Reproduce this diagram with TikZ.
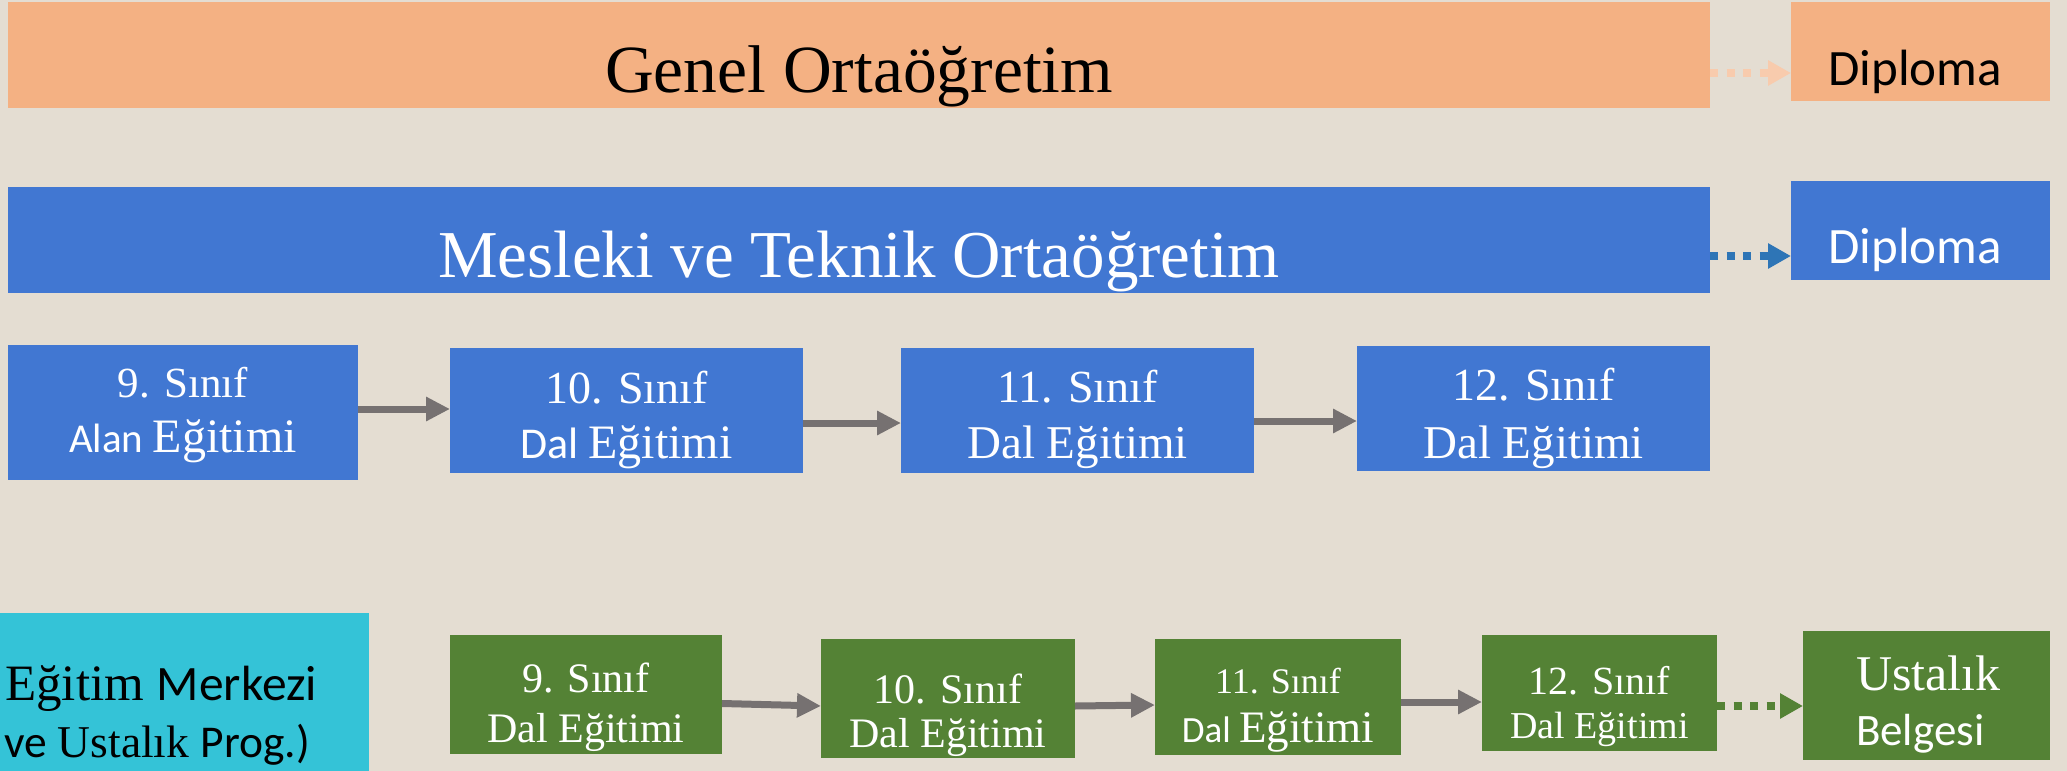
\documentclass[tikz,border=0pt]{standalone}
\usepackage{fontspec}
\setmainfont{Liberation Serif}
\setsansfont{Carlito}
\usetikzlibrary{arrows.meta}
\definecolor{bg}{HTML}{E4DDD2}
\definecolor{orng}{HTML}{F4B183}
\definecolor{blu}{HTML}{4177D2}
\definecolor{grn}{HTML}{548235}
\definecolor{cyn}{HTML}{34C3D7}
\definecolor{arrgray}{HTML}{767171}
\definecolor{peach}{HTML}{F8CBAD}
\definecolor{dblue}{HTML}{2E75B6}
\newcommand\fsz[1]{\fontsize{#1}{#1}\selectfont}
\begin{document}
\begin{tikzpicture}[x=1pt,y=-1pt,
  box/.style={draw=none, rectangle, inner sep=0pt, outer sep=0pt},
  bluebox/.style={box, fill=blu},
  greenbox/.style={box, fill=grn},
  txt/.style={inner sep=0pt, outer sep=0pt, anchor=base},
  wtxt/.style={txt, text=white},
  arr/.style={draw=arrgray, line width=7pt, -{Triangle[length=24pt,width=23pt]}},
  dots/.style={line width=8pt, dash pattern=on 8pt off 8.5pt, -{Triangle[length=23pt,width=24pt]}}
]
\useasboundingbox (0,0) rectangle (2067,771);
\fill[bg] (0,0) rectangle (2067,771);
\begin{scope}
\clip (0,0) rectangle (2067,771);

% top bars
\node[box, fill=orng, minimum width=1702pt, minimum height=106pt] (gen) at (859,55) {};
\node[txt, font=\fsz{67.5}] (gent) at (859,92) {Genel Ortaöğretim};
\node[box, fill=orng, minimum width=259pt, minimum height=99pt] (dipo) at (1920.5,51.5) {};
\node[txt, font=\sffamily\fsz{51}] (dipot) at (1915,85) {Diploma};

\node[bluebox, minimum width=1702pt, minimum height=106pt] (mes) at (859,240) {};
\node[wtxt, font=\fsz{67}] (mest) at (859,277) {Mesleki ve Teknik Ortaöğretim};
\node[bluebox, minimum width=259pt, minimum height=99pt] (dipb) at (1920.5,230.5) {};
\node[wtxt, font=\sffamily\fsz{51}] (dipbt) at (1915,263) {Diploma};

\draw[dots, peach] ([yshift=-18pt]gen.east) -- ([yshift=-21.5pt]dipo.west);
\draw[dots, dblue] ([yshift=-16pt]mes.east) -- ([yshift=-25.5pt]dipb.west);

% blue row
\node[bluebox, minimum width=350pt, minimum height=135pt] (b9) at (183,412.5) {};
\node[bluebox, minimum width=353pt, minimum height=125pt] (b10) at (626.5,410.5) {};
\node[bluebox, minimum width=353pt, minimum height=125pt] (b11) at (1077.5,410.5) {};
\node[bluebox, minimum width=353pt, minimum height=125pt] (b12) at (1533.5,408.5) {};

\node[wtxt, font=\fsz{43}] (b9a) at (183,397) {9. Sınıf};
\node[wtxt] (b9b) at (183,452) {{\sffamily\fsz{41}Alan }{\fsz{48}Eğitimi}};
\node[wtxt, font=\fsz{46}] (b10a) at (626.5,403) {10. Sınıf};
\node[wtxt] (b10b) at (626.5,458) {{\sffamily\fsz{44}Dal }{\fsz{48}Eğitimi}};
\node[wtxt, font=\fsz{46}] (b11a) at (1077.5,402) {11. Sınıf};
\node[wtxt, font=\fsz{47}] (b11b) at (1077.5,458) {Dal Eğitimi};
\node[wtxt, font=\fsz{46}] (b12a) at (1533.5,400) {12. Sınıf};
\node[wtxt, font=\fsz{47}] (b12b) at (1533.5,458) {Dal Eğitimi};

\draw[arr] ([yshift=3.5pt]b9.east) -- ([yshift=1.5pt]b10.west);
\draw[arr] ([yshift=-12.5pt]b10.east) -- ([yshift=-12.5pt]b11.west);
\draw[arr] ([yshift=-10.5pt]b11.east) -- ([yshift=-12.5pt]b12.west);

% green row
\node[box, fill=cyn, minimum width=399pt, minimum height=187pt] (cy) at (169.5,706.5) {};
\node[txt, anchor=base east] (cy1) at (317,700) {{\fsz{51}Eğitim }{\sffamily\fsz{49.5}Merkezi}};
\node[txt, anchor=base east] (cy2) at (310,757) {{\sffamily\fsz{45.5}ve }{\fsz{45.5}Ustalık }{\sffamily\fsz{45.5}Prog.)}};

\node[greenbox, minimum width=272pt, minimum height=119pt] (g9) at (586,694.5) {};
\node[greenbox, minimum width=254pt, minimum height=119pt] (g10) at (948,698.5) {};
\node[greenbox, minimum width=246pt, minimum height=116pt] (g11) at (1278,697) {};
\node[greenbox, minimum width=235pt, minimum height=116pt] (g12) at (1599.5,693) {};
\node[greenbox, minimum width=247pt, minimum height=129pt] (ust) at (1926.5,695.5) {};

\node[wtxt, font=\fsz{42}] (g9a) at (586,692) {9. Sınıf};
\node[wtxt, font=\fsz{42}] (g9b) at (586,742) {Dal Eğitimi};
\node[wtxt, font=\fsz{42}] (g10a) at (948,703) {10. Sınıf};
\node[wtxt, font=\fsz{42}] (g10b) at (948,747) {Dal Eğitimi};
\node[wtxt, font=\fsz{36}] (g11a) at (1278,693) {11. Sınıf};
\node[wtxt] (g11b) at (1278,742) {{\sffamily\fsz{37}Dal }{\fsz{45}Eğitimi}};
\node[wtxt, font=\fsz{40}] (g12a) at (1599.5,694) {12. Sınıf};
\node[wtxt, font=\fsz{38}] (g12b) at (1599.5,738) {Dal Eğitimi};
\node[wtxt, anchor=base west, font=\fsz{50}] (usta) at (1856,690) {Ustalık};
\node[wtxt, anchor=base west, font=\sffamily\fsz{45}] (ustb) at (1856,745) {Belgesi};

\draw[arr] ([yshift=-9pt]g9.east) -- ([yshift=-7.5pt]g10.west);
\draw[arr] ([yshift=-7.5pt]g10.east) -- ([yshift=-8pt]g11.west);
\draw[arr] ([yshift=-5pt]g11.east) -- ([yshift=-9pt]g12.west);
\draw[dots, grn] ([yshift=-13pt]g12.east) -- ([yshift=-10.5pt]ust.west);
\end{scope}
\end{tikzpicture}
\end{document}
